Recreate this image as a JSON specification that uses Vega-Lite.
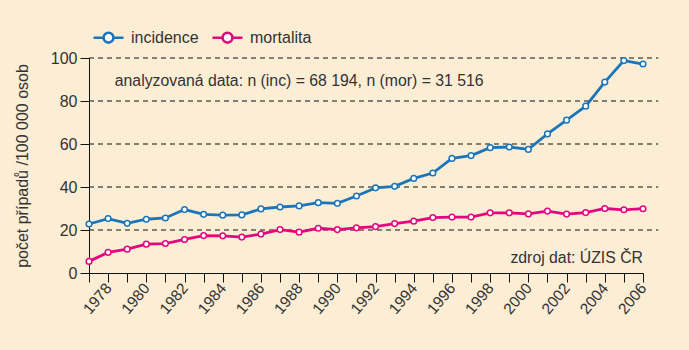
{
  "$schema": "https://vega.github.io/schema/vega-lite/v6.json",
  "width": 554,
  "height": 215,
  "autosize": {"type": "none"},
  "padding": {"left": 89, "top": 58, "right": 46, "bottom": 77},
  "background": "#fcedd5",
  "config": {
    "view": {"stroke": null},
    "font": "Liberation Sans",
    "axis": {"labelColor": "#333333", "titleColor": "#333333", "labelFont": "Liberation Sans", "titleFont": "Liberation Sans", "titleFontWeight": "normal"},
    "legend": {"labelFont": "Liberation Sans"}
  },
  "datasets": {
    "rady": [
      {"rok": 1977, "serie": "incidence", "hodnota": 22.8}, {"rok": 1977, "serie": "mortalita", "hodnota": 5.4},
      {"rok": 1978, "serie": "incidence", "hodnota": 25.3}, {"rok": 1978, "serie": "mortalita", "hodnota": 9.6},
      {"rok": 1979, "serie": "incidence", "hodnota": 23.1}, {"rok": 1979, "serie": "mortalita", "hodnota": 11.1},
      {"rok": 1980, "serie": "incidence", "hodnota": 25.0}, {"rok": 1980, "serie": "mortalita", "hodnota": 13.4},
      {"rok": 1981, "serie": "incidence", "hodnota": 25.6}, {"rok": 1981, "serie": "mortalita", "hodnota": 13.7},
      {"rok": 1982, "serie": "incidence", "hodnota": 29.5}, {"rok": 1982, "serie": "mortalita", "hodnota": 15.6},
      {"rok": 1983, "serie": "incidence", "hodnota": 27.3}, {"rok": 1983, "serie": "mortalita", "hodnota": 17.4},
      {"rok": 1984, "serie": "incidence", "hodnota": 26.9}, {"rok": 1984, "serie": "mortalita", "hodnota": 17.3},
      {"rok": 1985, "serie": "incidence", "hodnota": 27.0}, {"rok": 1985, "serie": "mortalita", "hodnota": 16.7},
      {"rok": 1986, "serie": "incidence", "hodnota": 29.8}, {"rok": 1986, "serie": "mortalita", "hodnota": 18.1},
      {"rok": 1987, "serie": "incidence", "hodnota": 30.7}, {"rok": 1987, "serie": "mortalita", "hodnota": 20.2},
      {"rok": 1988, "serie": "incidence", "hodnota": 31.2}, {"rok": 1988, "serie": "mortalita", "hodnota": 19.0},
      {"rok": 1989, "serie": "incidence", "hodnota": 32.7}, {"rok": 1989, "serie": "mortalita", "hodnota": 20.8},
      {"rok": 1990, "serie": "incidence", "hodnota": 32.4}, {"rok": 1990, "serie": "mortalita", "hodnota": 20.2},
      {"rok": 1991, "serie": "incidence", "hodnota": 35.8}, {"rok": 1991, "serie": "mortalita", "hodnota": 21.0},
      {"rok": 1992, "serie": "incidence", "hodnota": 39.6}, {"rok": 1992, "serie": "mortalita", "hodnota": 21.6},
      {"rok": 1993, "serie": "incidence", "hodnota": 40.3}, {"rok": 1993, "serie": "mortalita", "hodnota": 23.0},
      {"rok": 1994, "serie": "incidence", "hodnota": 44.0}, {"rok": 1994, "serie": "mortalita", "hodnota": 24.1},
      {"rok": 1995, "serie": "incidence", "hodnota": 46.5}, {"rok": 1995, "serie": "mortalita", "hodnota": 25.8},
      {"rok": 1996, "serie": "incidence", "hodnota": 53.3}, {"rok": 1996, "serie": "mortalita", "hodnota": 26.0},
      {"rok": 1997, "serie": "incidence", "hodnota": 54.6}, {"rok": 1997, "serie": "mortalita", "hodnota": 26.0},
      {"rok": 1998, "serie": "incidence", "hodnota": 58.3}, {"rok": 1998, "serie": "mortalita", "hodnota": 28.0},
      {"rok": 1999, "serie": "incidence", "hodnota": 58.6}, {"rok": 1999, "serie": "mortalita", "hodnota": 28.0},
      {"rok": 2000, "serie": "incidence", "hodnota": 57.5}, {"rok": 2000, "serie": "mortalita", "hodnota": 27.5},
      {"rok": 2001, "serie": "incidence", "hodnota": 64.7}, {"rok": 2001, "serie": "mortalita", "hodnota": 28.8},
      {"rok": 2002, "serie": "incidence", "hodnota": 71.1}, {"rok": 2002, "serie": "mortalita", "hodnota": 27.4},
      {"rok": 2003, "serie": "incidence", "hodnota": 77.6}, {"rok": 2003, "serie": "mortalita", "hodnota": 28.1},
      {"rok": 2004, "serie": "incidence", "hodnota": 88.8}, {"rok": 2004, "serie": "mortalita", "hodnota": 30.0},
      {"rok": 2005, "serie": "incidence", "hodnota": 98.8}, {"rok": 2005, "serie": "mortalita", "hodnota": 29.4},
      {"rok": 2006, "serie": "incidence", "hodnota": 97.2}, {"rok": 2006, "serie": "mortalita", "hodnota": 29.9}
    ],
    "mrizka": [{"y": 20}, {"y": 40}, {"y": 60}, {"y": 80}, {"y": 100}],
    "popisky": [
      {"text": "analyzovaná data: n (inc) = 68 194, n (mor) = 31 516"}
    ],
    "zdroj": [
      {"text": "zdroj dat: ÚZIS ČR"}
    ]
  },
  "layer": [
    {
      "data": {"name": "mrizka"},
      "mark": {"type": "rule", "color": "#111111", "strokeWidth": 1, "strokeDash": [5, 4]},
      "encoding": {
        "y": {"field": "y", "type": "quantitative", "scale": {"domain": [0, 100], "nice": false}},
        "x": {"datum": 1977, "type": "quantitative"},
        "x2": {"datum": 2006.8}
      }
    },
    {
      "data": {"name": "rady"},
      "mark": {"type": "line", "strokeWidth": 2.8},
      "encoding": {
        "x": {
          "field": "rok", "type": "quantitative",
          "scale": {"domain": [1977, 2006], "nice": false, "zero": false},
          "axis": {
            "title": null,
            "values": [1977,1978,1979,1980,1981,1982,1983,1984,1985,1986,1987,1988,1989,1990,1991,1992,1993,1994,1995,1996,1997,1998,1999,2000,2001,2002,2003,2004,2005,2006],
            "tickCount": 60,
            "labelExpr": "datum.value % 2 == 0 ? '' + datum.value : ''",
            "labelAngle": -50, "labelAlign": "right", "labelBaseline": "middle",
            "labelFontSize": 15.5, "labelPadding": 3, "labelOverlap": false,
            "tickSize": 9, "tickColor": "#111111", "domainColor": "#111111", "grid": false
          }
        },
        "y": {
          "field": "hodnota", "type": "quantitative",
          "scale": {"domain": [0, 100], "nice": false},
          "axis": {
            "title": "počet případů /100 000 osob",
            "values": [0, 20, 40, 60, 80, 100],
            "labelFontSize": 16, "labelPadding": 3, "tickSize": 9,
            "tickColor": "#111111", "domainColor": "#111111", "grid": false,
            "titleFontSize": 16, "titlePadding": 20
          }
        },
        "color": {
          "field": "serie", "type": "nominal",
          "scale": {"domain": ["incidence", "mortalita"], "range": ["#1b75bb", "#e5067f"]},
          "legend": {
            "title": null, "orient": "none", "direction": "horizontal",
            "legendX": 3, "legendY": -37,
            "symbolType": "M-1,0L-0.33,0M0.33,0L1,0M-0.33,0A0.33,0.33,0,1,1,0.33,0A0.33,0.33,0,1,1,-0.33,0",
            "symbolSize": 900, "symbolStrokeWidth": 2.6, "symbolFillColor": "white",
            "labelFontSize": 16, "labelColor": "#333333", "labelOffset": 6, "columnPadding": 8,
            "symbolLimit": 0
          }
        }
      }
    },
    {
      "data": {"name": "rady"},
      "mark": {"type": "point", "filled": false, "fill": "white", "fillOpacity": 1, "size": 32, "strokeWidth": 1.5, "opacity": 1},
      "encoding": {
        "x": {"field": "rok", "type": "quantitative"},
        "y": {"field": "hodnota", "type": "quantitative"},
        "color": {"field": "serie", "type": "nominal"}
      }
    },
    {
      "data": {"name": "popisky"},
      "mark": {"type": "text", "align": "left", "baseline": "middle", "fontSize": 15.8, "color": "#333333"},
      "encoding": {
        "x": {"datum": 1978.35, "type": "quantitative"},
        "y": {"datum": 89.3, "type": "quantitative"},
        "text": {"field": "text"}
      }
    },
    {
      "data": {"name": "zdroj"},
      "mark": {"type": "text", "align": "right", "baseline": "middle", "fontSize": 15.8, "color": "#333333"},
      "encoding": {
        "x": {"datum": 2006, "type": "quantitative"},
        "y": {"datum": 7, "type": "quantitative"},
        "text": {"field": "text"}
      }
    }
  ]
}
